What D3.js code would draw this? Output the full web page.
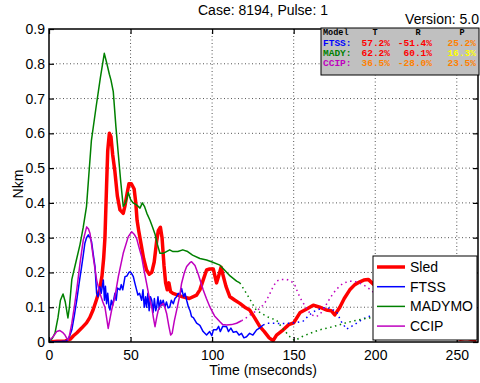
<!DOCTYPE html>
<html><head><meta charset="utf-8">
<script src="https://cdn.jsdelivr.net/npm/d3@7"></script>
<style>body{margin:0;background:#fff}svg{display:block}</style>
</head><body><svg id="c" width="480" height="383"></svg>
<script>
// ---------------- data ----------------
const seriesNames = ["Sled", "FTSS", "MADYMO", "CCIP"];
const seriesColors = ["#ff0000", "#0000ff", "#008000", "#bf00bf"];

const sledT = [0,5,10,13,15,17,20,23,25,27,29,31,32.5,33.5,34.3,35.3,36,37,38,39,40.4,41.9,43.5,45.5,46.5,47.6,49,50.5,52.2,53.2,54,55,56.5,58,59.8,61.5,63,64.5,66,67,68.3,69.3,70.5,71.5,72.5,73.5,74.5,76,79,82,86,90.5,92.5,94.5,96.6,98.5,100.7,102.7,104,105.5,106.8,108.5,110.9,114,117,120,123,126,129.3,132,135,137.4,139.5,143.6,147,150,154,158,162,166,170,173,175.2,178.3,181,184.4,187.5,190.6,193,195.7,198,205,220,235,248,252,256,262];
const sledV = [0,0.002,0.003,0.008,0.018,0.026,0.04,0.055,0.07,0.092,0.12,0.15,0.19,0.24,0.30,0.45,0.55,0.60,0.59,0.54,0.49,0.42,0.38,0.37,0.39,0.42,0.455,0.455,0.44,0.40,0.35,0.32,0.28,0.24,0.207,0.195,0.20,0.23,0.29,0.32,0.33,0.30,0.22,0.17,0.15,0.17,0.145,0.14,0.135,0.13,0.125,0.135,0.15,0.178,0.207,0.21,0.21,0.17,0.19,0.215,0.19,0.16,0.13,0.12,0.111,0.10,0.092,0.07,0.044,0.03,0.012,0.004,0.02,0.035,0.05,0.055,0.085,0.095,0.106,0.10,0.092,0.09,0.078,0.10,0.125,0.15,0.165,0.173,0.178,0.18,0.17,0.14,0.08,0.04,0.015,0.008,0.01,0.005];
const sledSolidUntil = 262;

const ftssT = [0,8,10.8,12.5,14,15.5,17,18.5,20,21,22,23,24.1,25.2,26.1,27.2,28.2,28.8,29.2,30,31.2,32,33.3,34,34.6,35.3,36,36.8,37.4,38.2,39,40.4,41.2,42,43.5,44.3,45.2,46.6,47.8,49,49.6,50.5,51.7,52.6,53.7,54.5,55.5,56.8,57.6,58.4,59.2,59.8,60.6,61.4,62.2,63,63.8,64.6,65.4,66,66.8,67.6,68.4,69.2,70,71,72,73,74,75,76.2,77.2,78.2,79.2,80.2,81.3,82.5,83.4,84.4,85.5,86.5,87.4,88.5,90.5,92.5,94.5,96.6,98.5,99.8,100.8,102.7,104,105,106.5,108.9,110,111.5,113,115,116.5,118,119.5,121.1,123,125,127.3,129,131.3,134,137.4,142,147.7,151.8,155.8,159,162,166,170,173,176.3,179,182.4,185.5,188.6,192,195.7,205,230,255,262];
const ftssV = [0,0.002,0.003,0.015,0.035,0.075,0.12,0.17,0.217,0.25,0.284,0.30,0.308,0.30,0.288,0.25,0.217,0.17,0.14,0.13,0.159,0.14,0.178,0.12,0.16,0.11,0.14,0.10,0.092,0.12,0.105,0.14,0.12,0.155,0.15,0.165,0.15,0.188,0.19,0.20,0.202,0.198,0.188,0.17,0.15,0.135,0.14,0.12,0.15,0.10,0.13,0.10,0.14,0.09,0.13,0.12,0.085,0.125,0.09,0.10,0.13,0.095,0.12,0.105,0.12,0.10,0.115,0.098,0.10,0.12,0.11,0.125,0.13,0.14,0.135,0.154,0.13,0.14,0.12,0.10,0.09,0.073,0.07,0.054,0.048,0.03,0.02,0.03,0.018,0.035,0.035,0.045,0.03,0.045,0.044,0.03,0.04,0.028,0.03,0.02,0.025,0.012,0.015,0.025,0.02,0.035,0.04,0.049,0.054,0.054,0.053,0.054,0.056,0.06,0.075,0.087,0.095,0.10,0.095,0.087,0.06,0.037,0.045,0.054,0.065,0.073,0.08,0.05,0.03,0.03];
const ftssSolidUntil = 131.3;

const madymoT = [0,2,3.7,5.5,7,8.6,10,11.6,12.5,14,16,19,21,23,26,29,31.5,33.9,35.5,37,38,39.4,41,42.5,44,45.5,47,48.6,50,51.5,53.5,55.8,57.2,58.5,60,61.9,63.5,65,66.5,68,70,72,74,76,79,82,85,88,92.5,96.6,100,104.8,108,111,115,117,121,127,131,135,139.5,143,147.7,150.7,155,160,166,174,182,188,194.7,205,220,240,262];
const madymoV = [0,0.01,0.026,0.07,0.12,0.138,0.115,0.069,0.10,0.18,0.22,0.28,0.33,0.39,0.58,0.68,0.76,0.83,0.80,0.77,0.753,0.72,0.62,0.54,0.46,0.39,0.40,0.43,0.41,0.40,0.395,0.385,0.40,0.39,0.37,0.35,0.33,0.31,0.28,0.255,0.255,0.26,0.265,0.26,0.26,0.265,0.26,0.25,0.24,0.236,0.23,0.221,0.205,0.19,0.175,0.17,0.14,0.092,0.08,0.07,0.063,0.04,0.015,0.004,0.015,0.025,0.035,0.044,0.055,0.062,0.068,0.075,0.06,0.04,0.02];
const madymoSolidUntil = 117;

const ccipT = [0,2.5,4.7,6.7,8.3,9.8,11,11.8,12.8,14,15.5,17,19,21,23.1,24.2,25.1,26.1,27.1,29.2,31.2,33,34.3,35.3,36.3,37.3,38.4,40.4,42.5,45.5,48.6,50.7,52.2,53.7,55.3,56.8,58.3,59.8,61.4,63,64,65,66,67,68.5,70,71,72.1,73.5,74.6,75.5,76.8,78.2,80,81.3,83,84.4,86.4,87.4,89.5,91.5,94.5,96.5,98.7,101.5,104.8,106.5,108.9,112,115,118,121,124,128,131,133.4,135.5,137.4,139.5,142,145.6,148.5,150.7,152.7,154.8,157.5,160,162,164,166.5,169,171.5,174.2,177,180.3,184.5,188.6,191.5,194.7,205,230,255,262];
const ccipV = [0.003,0.015,0.03,0.033,0.028,0.02,0.01,0.006,0.025,0.054,0.10,0.15,0.226,0.293,0.331,0.325,0.313,0.28,0.245,0.178,0.14,0.115,0.10,0.07,0.039,0.065,0.092,0.13,0.188,0.255,0.303,0.317,0.31,0.298,0.27,0.245,0.205,0.169,0.13,0.10,0.07,0.044,0.07,0.092,0.105,0.111,0.10,0.082,0.045,0.02,0.025,0.06,0.09,0.13,0.169,0.20,0.217,0.228,0.231,0.22,0.195,0.15,0.125,0.10,0.075,0.058,0.05,0.049,0.05,0.054,0.061,0.07,0.08,0.092,0.105,0.12,0.14,0.159,0.175,0.18,0.18,0.175,0.164,0.14,0.12,0.10,0.082,0.076,0.073,0.082,0.10,0.12,0.14,0.155,0.169,0.175,0.173,0.167,0.159,0.12,0.05,0.02,0.01];
const ccipSolidUntil = 118;

const xTicks = [0, 50, 100, 150, 200, 250];
const yTicks = [0, 0.1, 0.2, 0.3, 0.4, 0.5, 0.6, 0.7, 0.8, 0.9];
const xDomain = [0, 263];
const yDomain = [0, 0.9];

const titleText = "Case: 8194, Pulse: 1";
const versionText = "Version: 5.0";
const xLabel = "Time (mseconds)";
const yLabel = "Nkm";

const tableHeader = ["Model", "T", "R", "P"];
const tableModels = ["FTSS:", "MADY:", "CCIP:"];
const tableModelColors = ["#0000ff", "#008000", "#bf00bf"];
const tableT = ["57.2%", "62.2%", "36.5%"];
const tableR = ["-51.4%", "60.1%", "-28.0%"];
const tableP = ["25.2%", "16.3%", "23.5%"];
const tableTColors = ["#ff0000", "#ff0000", "#ff8000"];
const tableRColors = ["#ff0000", "#ff0000", "#ff8000"];
const tablePColors = ["#ff8000", "#ffff00", "#ff8000"];

// ---------------- drawing ----------------
const svg = d3.select("#c");
const L = 49, R = 478, T = 29, B = 342;
const x = d3.scaleLinear().domain(xDomain).range([L, R]);
const y = d3.scaleLinear().domain(yDomain).range([B, T]);
const font = "'Liberation Sans', Arial, Helvetica, sans-serif";

svg.append("rect").attr("width", 480).attr("height", 383).attr("fill", "#fff");

// grid
const grid = svg.append("g").attr("stroke", "#555").attr("stroke-width", 1).attr("stroke-dasharray", "1,2.5");
xTicks.filter(t => t > 0).forEach(t => grid.append("line").attr("x1", x(t)).attr("x2", x(t)).attr("y1", T).attr("y2", B));
yTicks.filter(t => t > 0 && t < 0.9).forEach(t => grid.append("line").attr("x1", L).attr("x2", R).attr("y1", y(t)).attr("y2", y(t)));

// clip for plot
svg.append("clipPath").attr("id", "pc").append("rect").attr("x", L).attr("y", T).attr("width", R - L).attr("height", B - T);

const allT = [sledT, ftssT, madymoT, ccipT];
const allV = [sledV, ftssV, madymoV, ccipV];
const solidUntil = [sledSolidUntil, ftssSolidUntil, madymoSolidUntil, ccipSolidUntil];
const widths = [3.5, 1.5, 1.5, 1.5];

const line = d3.line().x(d => x(d[0])).y(d => y(d[1]));
const plot = svg.append("g").attr("clip-path", "url(#pc)");
seriesNames.forEach((n, i) => {
  const pts = allT[i].map((t, k) => [t, allV[i][k]]);
  const solid = pts.filter(p => p[0] <= solidUntil[i]);
  const dotted = pts.filter(p => p[0] >= solidUntil[i]);
  plot.append("path").attr("d", line(solid)).attr("fill", "none")
    .attr("stroke", seriesColors[i]).attr("stroke-width", widths[i]).attr("stroke-linejoin", "round");
  if (dotted.length > 1) {
    plot.append("path").attr("d", line(dotted)).attr("fill", "none")
      .attr("stroke", seriesColors[i]).attr("stroke-width", 1.5).attr("stroke-dasharray", "1.5,3.5");
  }
});

// axes
const fmtY = d => d === 0 ? "0" : d3.format(".1f")(d);
const ax = svg.append("g").attr("font-family", font);
const gl = ax.append("g").attr("transform", `translate(${L},0)`)
  .call(d3.axisLeft(y).tickValues(yTicks).tickFormat(fmtY).tickSize(-5).tickPadding(4));
const gb = ax.append("g").attr("transform", `translate(0,${B})`)
  .call(d3.axisBottom(x).tickValues(xTicks).tickSize(-5).tickPadding(8));
const gt = ax.append("g").attr("transform", `translate(0,${T})`)
  .call(d3.axisTop(x).tickValues(xTicks).tickSize(-5).tickFormat(""));
const gr = ax.append("g").attr("transform", `translate(${R},0)`)
  .call(d3.axisRight(y).tickValues(yTicks).tickSize(-5).tickFormat(""));
[gl, gb, gt, gr].forEach(g => {
  g.select(".domain").remove();
  g.selectAll(".tick line").attr("stroke", "#000").attr("stroke-width", 1.2);
  g.selectAll(".tick text").attr("font-size", 14).attr("fill", "#000").attr("font-family", font);
});
svg.append("rect").attr("x", L).attr("y", T).attr("width", R - L).attr("height", B - T)
  .attr("fill", "none").attr("stroke", "#000").attr("stroke-width", 1.5);

// labels
svg.append("text").attr("x", 263).attr("y", 15).attr("text-anchor", "middle")
  .attr("font-family", font).attr("font-size", 14).text(titleText);
svg.append("text").attr("x", 479).attr("y", 24).attr("text-anchor", "end")
  .attr("font-family", font).attr("font-size", 14).text(versionText);
svg.append("text").attr("x", 263).attr("y", 375).attr("text-anchor", "middle")
  .attr("font-family", font).attr("font-size", 14).text(xLabel);
svg.append("text").attr("transform", "translate(23,184) rotate(-90)").attr("text-anchor", "middle")
  .attr("font-family", font).attr("font-size", 14).text(yLabel);

// table
const tb = { x: 321, y: 28, w: 158, h: 47 };
svg.append("clipPath").attr("id", "tc").append("rect").attr("x", tb.x).attr("y", tb.y + 0.5).attr("width", tb.w).attr("height", tb.h);
svg.append("rect").attr("x", tb.x).attr("y", tb.y).attr("width", tb.w).attr("height", tb.h)
  .attr("fill", "#c0c0c0").attr("stroke", "#000").attr("stroke-width", 1);
const tg = svg.append("g").attr("clip-path", "url(#tc)")
  .attr("font-family", "'Liberation Mono', 'Courier New', monospace").attr("font-size", 9.5).attr("font-weight", "bold");
const hdrX = [323, 375, 418, 462];
tableHeader.forEach((h, i) => tg.append("text").attr("x", hdrX[i]).attr("y", 35)
  .attr("font-size", 8.5)
  .attr("text-anchor", i === 0 ? "start" : "middle").attr("fill", "#000").text(h));
tableModels.forEach((m, r) => {
  const yy = 45.5 + r * 10;
  tg.append("text").attr("x", 323).attr("y", yy).attr("fill", tableModelColors[r]).text(m);
  tg.append("text").attr("x", 390).attr("y", yy).attr("text-anchor", "end").attr("fill", tableTColors[r]).text(tableT[r]);
  tg.append("text").attr("x", 432).attr("y", yy).attr("text-anchor", "end").attr("fill", tableRColors[r]).text(tableR[r]);
  tg.append("text").attr("x", 476).attr("y", yy).attr("text-anchor", "end").attr("fill", tablePColors[r]).text(tableP[r]);
});

// legend
const lg = svg.append("g");
lg.append("rect").attr("x", 373).attr("y", 256).attr("width", 104).attr("height", 84)
  .attr("fill", "#fff").attr("stroke", "#000").attr("stroke-width", 1);
seriesNames.forEach((n, i) => {
  const yy = 267 + i * 19.7;
  lg.append("line").attr("x1", 377).attr("x2", 405).attr("y1", yy).attr("y2", yy)
    .attr("stroke", seriesColors[i]).attr("stroke-width", widths[i]);
  lg.append("text").attr("x", 410).attr("y", yy + 5).attr("font-family", font).attr("font-size", 14).text(n);
});
</script>
</body></html>
